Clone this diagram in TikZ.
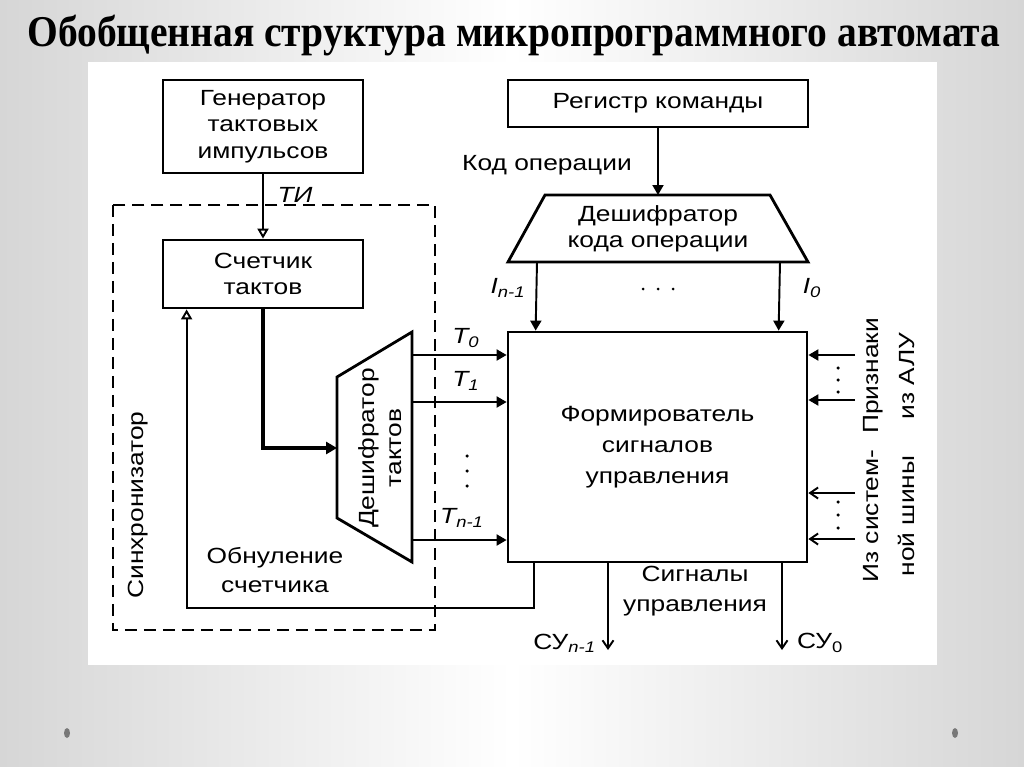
\documentclass[tikz,border=0pt]{standalone}
\usepackage{fontspec}
\setmainfont{Liberation Sans}[FakeStretch=1.2]
\newfontfamily\titlefont{Liberation Serif Bold}[FakeStretch=0.9]
\usetikzlibrary{arrows.meta,positioning,calc}
\definecolor{slide}{RGB}{214,214,214}
\definecolor{dotgray}{RGB}{120,120,120}

\begin{document}
\begin{tikzpicture}[x=0.02cm, y=-0.02cm,
  box/.style={draw, line width=1.6pt, fill=white, align=center,
              font=\fontsize{12.5}{15}\selectfont, inner sep=0pt},
  txt/.style={align=center, font=\fontsize{12.5}{15}\selectfont, inner sep=1pt},
  ln/.style={line width=1.1pt},
  fa/.style={ln, -{Triangle[length=0.2cm, width=0.22cm]}},
  oa/.style={ln, -{Triangle[open, length=0.2cm, width=0.22cm]}},
  va/.style={ln, -{Straight Barb[length=0.16cm, width=0.22cm]}},
]
% slide background
\useasboundingbox (0,0) rectangle (1024,767);
\shade[left color=slide, right color=slide, middle color=white] (0,0) rectangle (1024,767);
\fill[white] (88,62) rectangle (937,665);
\fill[dotgray] (67,733) ellipse (0.06cm and 0.1cm);
\fill[dotgray] (955,733) ellipse (0.06cm and 0.1cm);
\node[font=\titlefont\fontsize{25}{26}\selectfont, anchor=base, inner sep=0pt] (title) at (514,47)
  {Обобщенная структура микропрограммного автомата};

% synchronizer frame
\draw[ln, dash pattern=on 0.24cm off 0.14cm] (113,205) rectangle (435,630);
\node[txt, rotate=90] (sync) at (138,505) {Синхронизатор};

% left blocks
\node[box, minimum width=4cm, minimum height=1.86cm] (gen) at (263,126.5)
  {Генератор\\тактовых\\импульсов};
\node[box, minimum width=4cm, minimum height=1.36cm] (cnt) at (263,274)
  {Счетчик\\тактов};
\node[txt, font=\fontsize{12.5}{15}\selectfont\itshape] (ti) at (295,195) {ТИ};

% clock decoder
\draw[line width=1.6pt, fill=white] (337,377) -- (412,332) -- (412,562) -- (337,518) -- cycle;
\coordinate (dtl) at (337,448);
\coordinate (dtr) at (412,448);
\node[txt, rotate=90, font=\fontsize{12.5}{15}\selectfont] (dt) at (380,448)
  {Дешифратор\\тактов};

% command register and opcode decoder
\node[box, minimum width=6cm, minimum height=0.94cm] (reg) at (658,103.5)
  {Регистр команды};
\draw[line width=1.6pt, fill=white] (545,195) -- (770,195) -- (808,262) -- (508,262) -- cycle;
\coordinate (dkot) at (658,195);
\coordinate (dkobl) at (508,262);
\node[txt] (dko) at (658,229) {Дешифратор\\кода операции};
\node[txt] (kod) at (547,165) {Код операции};

% signal former
\node[box, minimum width=5.98cm, minimum height=4.6cm, font=\fontsize{12.5}{17.5}\selectfont]
  (form) at (657.5,447) {Формирователь\\сигналов\\управления};

% connections
\draw[oa] (gen) -- (cnt);
\draw[line width=2.2pt, -{Triangle[length=0.22cm, width=0.24cm]}] (cnt.south) |- (dtl);
\draw[oa] ($(form.south west)+(27,0)$) -- ++(0,45) -| ($(cnt.south west)+(25,0)$);
\node[txt] (obn) at (275,570) {Обнуление\\[2pt]счетчика};

\foreach \y in {355,402,540}
  \draw[fa] (dtr |- 0,\y) -- (form.west |- 0,\y);
\node[txt] (t0) at (466,338) {\itshape T\textsubscript{0}};
\node[txt] (t1) at (466,381) {\itshape T\textsubscript{1}};
\node[txt] (tn) at (462,518) {\itshape T\textsubscript{n-1}};
\foreach \y in {456,471,486}
  \fill (467,\y) circle (0.035cm);

\draw[fa] (reg) -- (dkot);
\foreach \dx in {29,272}
  \draw[fa] ($(dkobl)+(\dx,0)$) -- ($(form.north west)+(\dx,0)$);
\node[txt] (in1) at (508,288) {\itshape I\textsubscript{n-1}};
\node[txt] (i0) at (812,288) {\itshape I\textsubscript{0}};
\foreach \x in {643,658,673}
  \fill (\x,289) circle (0.03cm);

% inputs from the right
\coordinate (alu1) at (855,355);
\coordinate (alu2) at (855,400);
\coordinate (bus1) at (855,493);
\coordinate (bus2) at (855,539);
\draw[fa] (alu1) -- (form.east |- alu1);
\draw[fa] (alu2) -- (form.east |- alu2);
\draw[va] (bus1) -- (form.east |- bus1);
\draw[va] (bus2) -- (form.east |- bus2);
\foreach \y in {368,380,392,502,515,528}
  \fill (838,\y) circle (0.035cm);
\node[txt, rotate=90, font=\fontsize{12.5}{20}\selectfont] (alu) at (889,376)
  {Признаки\\из АЛУ};
\node[txt, rotate=90, font=\fontsize{12.5}{20}\selectfont] (bus) at (889,516)
  {Из систем-\\ной шины};

% control signal outputs
\coordinate (su1) at (608,650);
\coordinate (su0) at (782,650);
\draw[va] (form.south -| su1) -- (su1);
\draw[va] (form.south -| su0) -- (su0);
\node[txt] (sig) at (695,591) {Сигналы\\[2pt]управления};
\node[txt, anchor=east] (su1l) at (598,643) {СУ\textsubscript{\itshape n-1}};
\node[txt, anchor=west] (su0l) at (795,643) {СУ\textsubscript{0}};
\end{tikzpicture}
\end{document}
